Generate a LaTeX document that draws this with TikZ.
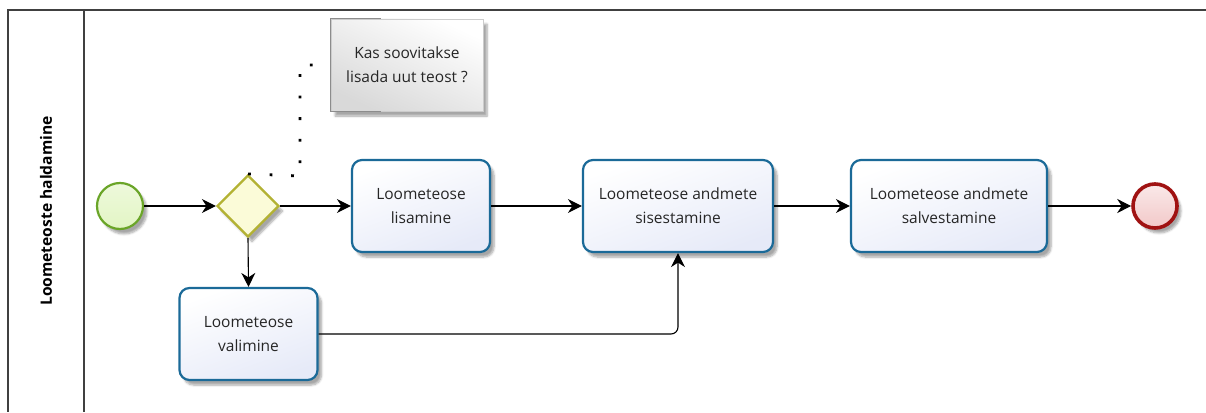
\documentclass[tikz,border=0pt]{standalone}
\usepackage{fontspec}
\setmainfont{Open Sans}
\usetikzlibrary{arrows.meta,shadows.blur,shapes.geometric}
\definecolor{taskborder}{HTML}{1B6A98}
\definecolor{taskfill}{HTML}{E6EAF8}
\definecolor{startborder}{HTML}{6AA528}
\definecolor{startfill}{HTML}{E2F5C4}
\definecolor{endborder}{HTML}{A01212}
\definecolor{endfill}{HTML}{F2C8C8}
\definecolor{gwborder}{HTML}{B3B233}
\definecolor{gwfill}{HTML}{FBFBD8}
\definecolor{poolline}{HTML}{404040}
\tikzset{
  shadowed/.style={blur shadow={shadow xshift=4pt,shadow yshift=-5pt,shadow blur steps=6,shadow opacity=35}},
  task/.style={draw=taskborder, line width=2.2pt, rounded corners=10pt,
    top color=white, bottom color=taskfill, shading angle=20,
    minimum width=138pt, minimum height=92pt, align=center, inner sep=2pt,
    font=\fontsize{15.5}{24}\selectfont, text=black!85, shadowed},
  startev/.style={circle, draw=startborder, line width=2.2pt, top color=startfill!60!white, bottom color=startfill,
    minimum size=46pt, inner sep=0pt, shadowed},
  endev/.style={circle, draw=endborder, line width=3.6pt, top color=endfill!40!white, bottom color=endfill,
    minimum size=44pt, inner sep=0pt, shadowed},
  gateway/.style={diamond, aspect=1, draw=gwborder, line width=2.2pt, fill=gwfill,
    minimum width=62pt, minimum height=62pt, inner sep=0pt, shadowed},
  annot/.style={draw=black!20, line width=0.8pt, top color=white, bottom color=black!15, shading angle=-25,
    minimum width=152pt, minimum height=92pt, align=center,
    font=\fontsize{15.5}{24}\selectfont, text=black!85, shadowed},
  flow/.style={draw=black, line width=1.1pt, -{Stealth[length=14pt,width=14pt,inset=4.5pt]}},
  assoc/.style={draw=black, line width=2.8pt, dash pattern=on 2.8pt off 18.8pt},
}
\begin{document}
\begin{tikzpicture}[x=1pt,y=-1pt]
\useasboundingbox (0,0) rectangle (1206,412);
% pool
\draw[poolline, line width=1.6pt] (1206,10) -- (8,10) -- (8,412);
\draw[poolline, line width=1.6pt] (84,10) -- (84,412);
\node[rotate=90, font=\bfseries\fontsize{15.6}{18}\selectfont] (lane) at (46,211) {Loometeoste haldamine};
% nodes
\node[startev] (start) at (120,206) {};
\node[gateway] (gw) at (248,206) {};
\node[task] (lis) at (421,206) {Loometeose\\lisamine};
\node[task, minimum width=190pt] (sis) at (678,206) {Loometeose andmete\\sisestamine};
\node[task, minimum width=196pt] (sal) at (949,206) {Loometeose andmete\\salvestamine};
\node[endev] (end) at (1155,206) {};
\node[task] (val) at (248.5,334) {Loometeose\\valimine};
\node[annot] (ann) at (407,65) {Kas soovitakse\\lisada uut teost ?};
\draw[black!45, line width=1pt] ([xshift=50pt]ann.north west) -- (ann.north west) -- (ann.south west) -- ([xshift=50pt]ann.south west);
% association
\coordinate (c1) at (300,176);
\coordinate (c2) at (300,65);
\draw[assoc] (gw.north) -- (c1) -- (c2) -- (ann.west);
% flows
\draw[flow] (start) -- (gw);
\draw[flow] (gw.east) -- (lis.west);
\draw[flow] (gw.south) -- (val.north);
\draw[flow] (lis) -- (sis);
\draw[flow] (sis) -- (sal);
\draw[flow] (sal) -- (end);
\draw[flow, rounded corners=7pt] (val.east) -| (sis.south);
\end{tikzpicture}
\end{document}
